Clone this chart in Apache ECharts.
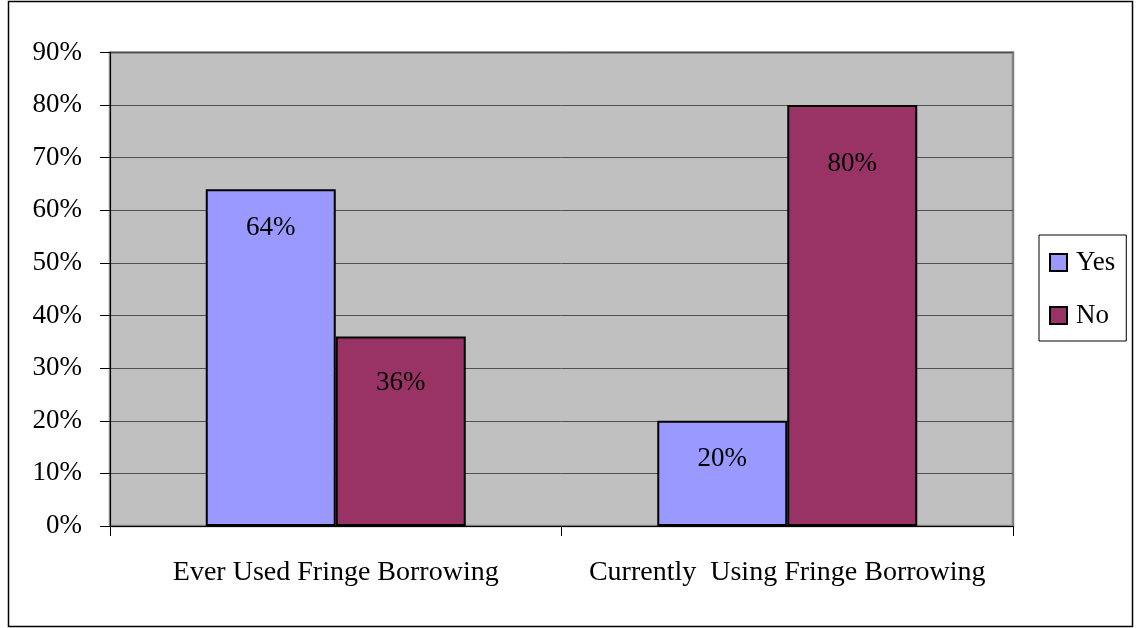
<!DOCTYPE html>
<html>
<head>
<meta charset="utf-8">
<script src="https://cdn.jsdelivr.net/npm/echarts@6/dist/echarts.min.js"></script>
<style>
  html, body { margin: 0; padding: 0; background: #ffffff; }
  #chart { width: 1136px; height: 628px; }
</style>
</head>
<body>
<div id="chart"></div>
<script>
// Survey results: share of respondents (percent)
const categories = ['Ever Used Fringe Borrowing', 'Currently  Using Fringe Borrowing'];
const yesValues = [64, 20];
const noValues = [36, 80];
const yTicks = [0, 10, 20, 30, 40, 50, 60, 70, 80, 90];

const FONT = '"Liberation Serif", "Times New Roman", serif';

// Distance of each value label below its bar's top edge
const yesLabelGap = [25, 25];
const noLabelGap = [33, 45];

function withLabels(values, gaps) {
  return values.map((v, i) => ({
    value: v,
    label: { distance: gaps[i] }
  }));
}

const chart = echarts.init(document.getElementById('chart'), null, { renderer: 'canvas' });

chart.setOption({
  backgroundColor: '#ffffff',
  animation: false,
  textStyle: { fontFamily: FONT },
  graphic: [{
    type: 'rect',
    shape: { x: 8.5, y: 1.5, width: 1124, height: 625 },
    style: { fill: 'none', stroke: '#000000', lineWidth: 1.5 },
    z: -10
  }],
  legend: {
    orient: 'vertical',
    left: 1039,
    top: 235,
    padding: [14, 11, 12, 10],
    itemGap: 26,
    itemWidth: 17,
    itemHeight: 17,
    icon: 'rect',
    borderColor: '#000000',
    borderWidth: 1,
    backgroundColor: '#ffffff',
    textStyle: { fontFamily: FONT, fontSize: 27, color: '#000000', lineHeight: 26, padding: [0, 0, 0, 4] },
    data: ['Yes', 'No']
  },
  grid: {
    left: 110,
    top: 52.5,
    right: 123,
    bottom: 102,
    show: true,
    backgroundColor: '#c0c0c0',
    borderColor: '#808080',
    borderWidth: 2.5
  },
  xAxis: {
    type: 'category',
    data: categories,
    axisLine: { show: true, lineStyle: { color: '#000000', width: 1 } },
    axisTick: { show: true, alignWithLabel: false, length: 10, lineStyle: { color: '#000000', width: 1 } },
    axisLabel: { interval: 0, fontFamily: FONT, fontSize: 28, color: '#000000', margin: 33 },
    splitLine: { show: false }
  },
  yAxis: {
    type: 'value',
    min: yTicks[0],
    max: yTicks[yTicks.length - 1],
    interval: 10,
    axisLine: { show: true, lineStyle: { color: '#000000', width: 1 } },
    axisTick: { show: true, length: 10, lineStyle: { color: '#000000', width: 1 } },
    axisLabel: { fontFamily: FONT, fontSize: 27, color: '#000000', margin: 28, formatter: v => v + '%' },
    splitLine: { show: true, lineStyle: { color: '#505050', width: 1 } }
  },
  series: [
    {
      name: 'Yes',
      type: 'bar',
      barWidth: 130,
      barGap: '0%',
      data: withLabels(yesValues, yesLabelGap),
      itemStyle: { color: '#9999ff', borderColor: '#000000', borderWidth: 2 },
      label: {
        show: true,
        position: 'insideTop',
        fontFamily: FONT,
        fontSize: 27,
        color: '#000000',
        formatter: p => p.value + '%'
      }
    },
    {
      name: 'No',
      type: 'bar',
      barWidth: 130,
      barGap: '0%',
      data: withLabels(noValues, noLabelGap),
      itemStyle: { color: '#993366', borderColor: '#000000', borderWidth: 2 },
      label: {
        show: true,
        position: 'insideTop',
        fontFamily: FONT,
        fontSize: 27,
        color: '#000000',
        formatter: p => p.value + '%'
      }
    }
  ]
});
</script>
</body>
</html>
